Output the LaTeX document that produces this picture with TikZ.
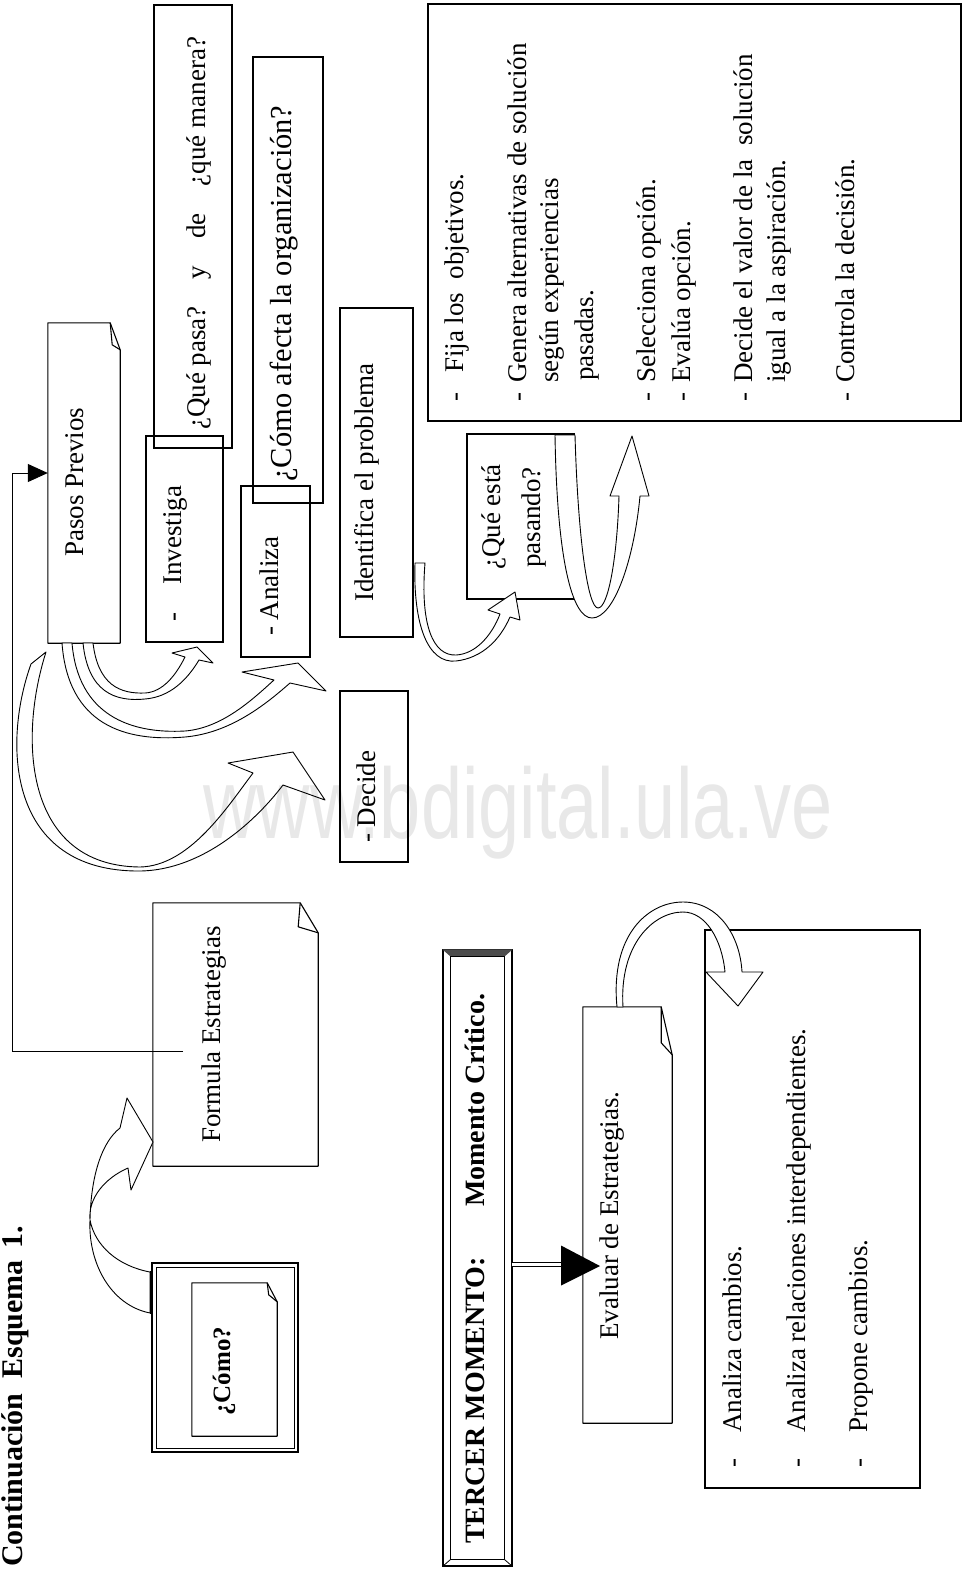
\documentclass[tikz,border=0pt]{standalone}
\usepackage{fontspec}
\usepackage{graphicx}
\setmainfont{Liberation Serif}
\newfontfamily\wmfont{Liberation Sans}
\usetikzlibrary{arrows.meta}

% text set upright-rotated (reads bottom to top), size in px
\newcommand\vtxt[2][27]{\rotatebox{90}{\fontsize{#1}{#1}\selectfont\strut#2}}
% list dash followed by a fixed gap
\newcommand\itemdash[1]{\makebox[#1][l]{-}}
% outline of a sheet with a folded upper-right corner
% #1 node, #2 cut along top, #3 cut along side, #4/#5 inner point of the fold
\newcommand\docfold[5]{%
  \draw[frame] (#1.north west) -- ([xshift=-#2pt]#1.north east)
     -- ([yshift=-#3pt]#1.north east) -- (#1.south east) -- (#1.south west) -- cycle;
  \draw[frame] ([xshift=-#2pt]#1.north east) -- ([xshift=-#4pt,yshift=-#5pt]#1.north east)
     -- ([yshift=-#3pt]#1.north east);}

\begin{document}
\begin{tikzpicture}[x=1pt,y=-1pt,
  box/.style={draw, line width=1.1pt, inner sep=0pt},
  blank/.style={inner sep=0pt},
  lbl/.style={inner sep=0pt, anchor=south},
  ribbon/.style={draw, fill=white, line width=0.9pt, line join=round},
  frame/.style={line width=1.1pt, line join=round}]
\useasboundingbox (0,0) rectangle (973,1572);

% ---------- plain boxes ----------
\node[box, minimum width=78pt,  minimum height=443pt] (qpasa)  at (193,226.5) {};
\node[box, minimum width=70pt,  minimum height=446pt] (afecta) at (288,280) {};
\node[box, minimum width=77pt,  minimum height=206pt] (inv)    at (184.5,539) {};
\node[box, minimum width=69pt,  minimum height=171pt] (anal)   at (275.5,571.5) {};
\node[box, minimum width=73pt,  minimum height=329pt] (ident)  at (376.5,472.5) {};
\node[box, minimum width=107pt, minimum height=165pt] (qesta)  at (520.5,516.5) {};
\node[box, minimum width=68pt,  minimum height=171pt] (decide) at (374,776.5) {};
\node[box, minimum width=533pt, minimum height=417pt] (listA)  at (694.5,212.5) {};
\node[box, minimum width=215pt, minimum height=558pt] (listB)  at (812.5,1209) {};

% ---------- sheets with folded corner ----------
\node[blank, minimum width=72pt,  minimum height=320pt] (pasos)   at (84,483) {};
\docfold{pasos}{10}{27}{8}{22}
\node[blank, minimum width=165pt, minimum height=263pt] (formula) at (235.5,1034.5) {};
\docfold{formula}{18}{30}{20}{24}
\node[blank, minimum width=89pt,  minimum height=416pt] (evaluar) at (627.5,1215) {};
\docfold{evaluar}{11}{48}{11}{36}

% ---------- framed question ----------
\node[draw, line width=2pt, inner sep=0pt, minimum width=146pt, minimum height=189pt] (comoframe) at (225,1357.5) {};
\draw[line width=0.8pt] ([shift={(5pt,5pt)}]comoframe.south west) rectangle ([shift={(-5pt,-5pt)}]comoframe.north east);
\node[blank, minimum width=85pt, minimum height=153pt] (comodoc) at (234.5,1359.5) {};
\docfold{comodoc}{10}{19}{8.5}{12}

% ---------- bevelled title bar ----------
\node[draw, line width=1.1pt, inner sep=0pt, minimum width=69pt, minimum height=616pt] (tercer) at (477.5,1258) {};
\fill[black!70] (tercer.north west) -- (tercer.north east)
  -- ([xshift=-8pt,yshift=-7pt]tercer.north east) -- ([xshift=8pt,yshift=-7pt]tercer.north west) -- cycle;
\draw[line width=0.8pt] ([xshift=8pt,yshift=-7pt]tercer.north west) rectangle ([xshift=-8pt,yshift=7pt]tercer.south east);
\draw[line width=0.8pt] (tercer.south west) -- ([xshift=8pt,yshift=7pt]tercer.south west);
\draw[line width=0.8pt] (tercer.south east) -- ([xshift=-8pt,yshift=7pt]tercer.south east);

% ---------- elbow connector to Pasos Previos ----------
\coordinate (fl) at (183,1051);
\coordinate (corner) at (12,473);
\draw[line width=1pt, -{Triangle[length=20pt,width=18pt]}] (fl) -| (corner) -- (corner -| pasos.west);

% ---------- double arrow to Evaluar ----------
\coordinate (dstart) at (512,1264.5);
\coordinate (dhead) at (561,1264.5);
\coordinate (dtip) at (600,1266);
\draw[line width=0.9pt, double, double distance=3pt] (dstart) -- (dhead);
\fill ([yshift=19pt]dhead) -- (dtip) -- ([yshift=-21pt]dhead) -- cycle;

% ---------- ribbon arrows ----------
% Pasos Previos -> Decide
\draw[ribbon] (31,664) -- (46,652) .. controls (18,740) and (25,866) .. (140,867)
  .. controls (190,866) and (228,806) .. (253,773) -- (228,763) -- (293,752) -- (325,800) -- (283,785)
  .. controls (258,818) and (205,870) .. (140,871) .. controls (8,872) and (2,745) .. (31,664) -- cycle;
% Pasos Previos -> Analiza
\draw[ribbon] (62,643) -- (72,643) .. controls (78,715) and (130,734) .. (185,731)
  .. controls (222,728) and (252,700) .. (274,680) -- (242,672) -- (298,663) -- (326,691) -- (290,683)
  .. controls (265,705) and (230,733) .. (185,737) .. controls (125,742) and (68,725) .. (62,643) -- cycle;
% Pasos Previos -> Investiga
\draw[ribbon] (83,643) -- (93,643) .. controls (98,685) and (120,694) .. (145,693)
  .. controls (163,692) and (176,675) .. (185,657) -- (172,653) -- (197,647) -- (213,663) -- (199,660)
  .. controls (187,680) and (170,697) .. (145,699) .. controls (115,702) and (88,692) .. (83,643) -- cycle;
% Identifica -> Que esta pasando
\draw[ribbon] (415,563) -- (425,563) .. controls (420,625) and (433,656) .. (456,655)
  .. controls (476,654) and (492,635) .. (500,614) -- (488,610) -- (515,592) -- (520,620) -- (510,617)
  .. controls (500,640) and (482,658) .. (456,661) .. controls (428,664) and (413,625) .. (415,563) -- cycle;
% U-turn towards the list
\draw[ribbon] (555,435) -- (575,435) .. controls (578,540) and (588,608) .. (598,608)
  .. controls (608,608) and (617,560) .. (619,496) -- (610,496) -- (632,436) -- (649,496) -- (640,496)
  .. controls (634,560) and (614,618) .. (592,618) .. controls (572,618) and (557,560) .. (555,435) -- cycle;
% Evaluar -> list of changes
\draw[ribbon] (617,1007) -- (623,1007) .. controls (619,945) and (653,912) .. (683,912)
  .. controls (706,912) and (722,940) .. (725,972) -- (706,972) -- (738,1006) -- (763,972) -- (742,972)
  .. controls (740,935) and (718,902) .. (683,902) .. controls (648,902) and (610,935) .. (617,1007) -- cycle;
% Como -> Formula Estrategias
\draw[ribbon] (150,1272) .. controls (118,1266) and (95,1246) .. (90,1220)
  .. controls (88,1198) and (105,1178) .. (128,1168) -- (131,1190) -- (153,1142) -- (127,1098) -- (120,1128)
  .. controls (102,1142) and (91,1175) .. (90,1220) .. controls (88,1262) and (110,1305) .. (150,1313) -- cycle;
\draw[line width=3pt] (151,1271) -- (151,1314);

% ---------- texts ----------
\node[lbl] (t-title) at (17,1567) {\vtxt[30]{\bfseries Continuación\hspace{0.5em}Esquema\hspace{0.4em}1.}};
\node[lbl] (t-como) at (225,1416) {\vtxt[25]{\bfseries ¿Cómo?}};
\node[lbl] (t-formula) at (215,1143) {\vtxt{Formula Estrategias}};
\node[lbl] (t-pasos) at (78,557) {\vtxt{Pasos Previos}};
\node[lbl] (t-inv) at (176,621.5) {\vtxt{\itemdash{1.35em}Investiga}};
\node[lbl] (t-qpasa) at (200,430) {\vtxt{¿Qué pasa?\hspace{1em}y\hspace{1em}de\hspace{1em}¿qué manera?}};
\node[lbl] (t-afecta) at (285,482) {\vtxt[30.5]{¿Cómo afecta la organización?}};
\node[lbl] (t-anal) at (273,636) {\vtxt{- Analiza}};
\node[lbl] (t-ident) at (368,602) {\vtxt{Identifica el problema}};
\node[lbl] (t-qesta1) at (495,570) {\vtxt{¿Qué está}};
\node[lbl] (t-qesta2) at (535,568) {\vtxt{pasando?}};
\node[lbl] (t-decide) at (370,843) {\vtxt{- Decide}};

\node[lbl] (t-l1) at (458,401.5) {\vtxt{\itemdash{1.056em}Fija los\hspace{0.5em}objetivos.}};
\node[lbl] (t-l2) at (521,401.5) {\vtxt{\itemdash{0.685em}Genera alternativas de solución}};
\node[lbl] (t-l3) at (553,383) {\vtxt{según experiencias}};
\node[lbl] (t-l4) at (588,381) {\vtxt{pasadas.}};
\node[lbl] (t-l5) at (650,401.5) {\vtxt{\itemdash{0.685em}Selecciona opción.}};
\node[lbl] (t-l6) at (685,401.5) {\vtxt{\itemdash{0.685em}Evalúa opción.}};
\node[lbl] (t-l7) at (747,401.5) {\vtxt{\itemdash{0.685em}Decide el valor de la\hspace{0.5em}solución}};
\node[lbl] (t-l8) at (780,383) {\vtxt{igual a la aspiración.}};
\node[lbl] (t-l9) at (849,401.5) {\vtxt{\itemdash{0.685em}Controla la decisión.}};

\node[lbl] (t-tercer) at (479,1544) {\vtxt[28]{\bfseries TERCER MOMENTO:}};
\node[lbl] (t-critico) at (479,1207) {\vtxt[28]{\bfseries Momento Crítico.}};
\node[lbl] (t-evaluar) at (613,1340) {\vtxt{Evaluar de Estrategias.}};
\node[lbl] (t-m1) at (736,1467.5) {\vtxt{\itemdash{1.28em}Analiza cambios.}};
\node[lbl] (t-m2) at (800,1467.5) {\vtxt{\itemdash{1.28em}Analiza relaciones interdependientes.}};
\node[lbl] (t-m3) at (862,1467.5) {\vtxt{\itemdash{1.28em}Propone cambios.}};

% ---------- watermark ----------
\node[anchor=base west, inner sep=0pt, text=black, text opacity=0.09] (wm) at (203,838)
  {\wmfont\fontsize{74}{74}\selectfont\scalebox{1}[1.35]{www.bdigital.ula.ve}};
\end{tikzpicture}
\end{document}
